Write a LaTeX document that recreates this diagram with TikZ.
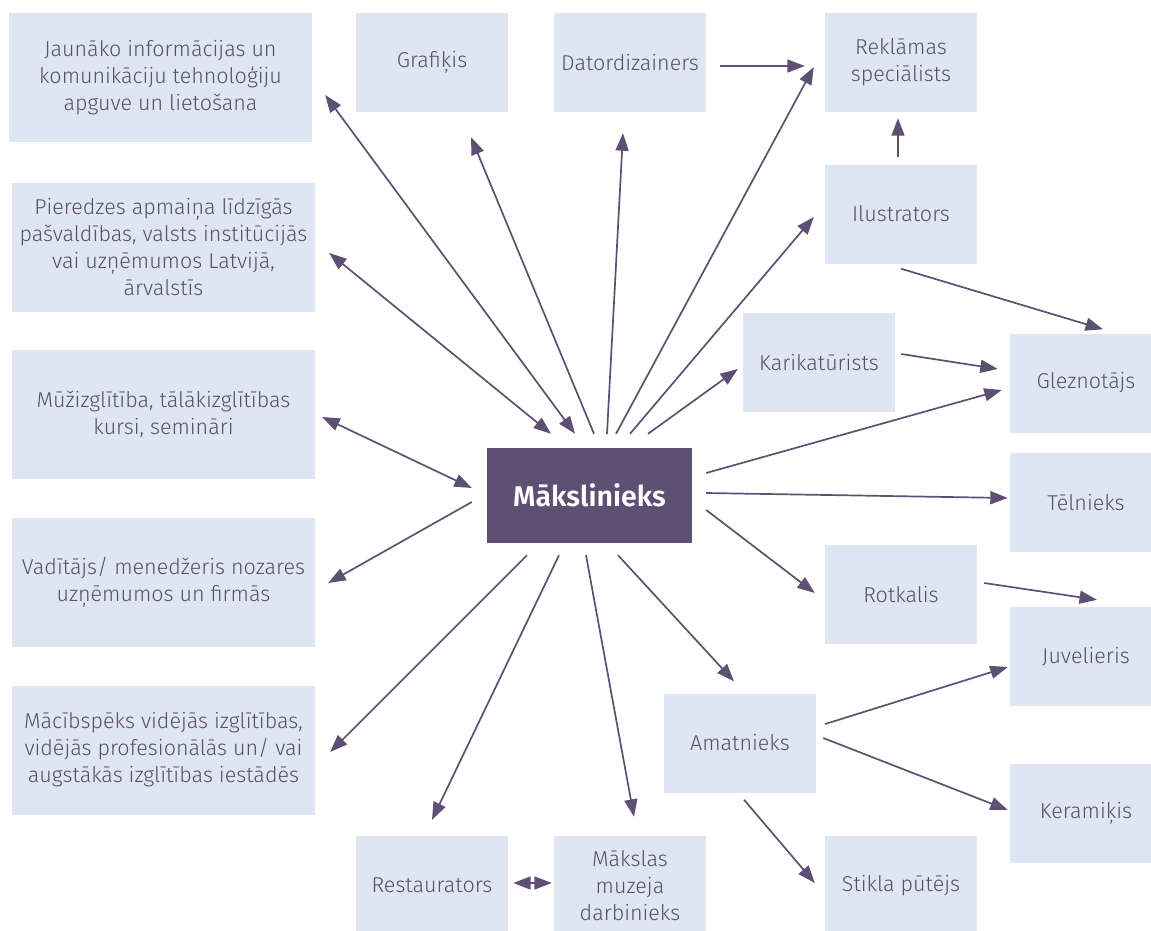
\documentclass[tikz,border=0pt]{standalone}
\usepackage{fontspec}
\setmainfont{Fira Sans Light}[BoldFont={Fira Sans SemiBold}]
\usetikzlibrary{arrows.meta}
\definecolor{boxblue}{HTML}{DFE6F3}
\definecolor{plum}{HTML}{5E5072}
\definecolor{plumtext}{HTML}{5A4E6B}

\begin{document}
\begin{tikzpicture}[x=1pt,y=-1pt,>={Triangle[length=17.5pt,width=13pt]},
   job/.style={fill=boxblue, text=plumtext, align=center, inner sep=0pt, minimum width=152pt, minimum height=99pt, font=\fontsize{21.5}{27}\selectfont},
   wide/.style={job, minimum width=303pt, minimum height=129pt},
   link/.style={->, draw=plum, line width=1.7pt},
   twoway/.style={<->, draw=plum, line width=1.7pt}]
   \path[use as bounding box, fill=white] (0,0) rectangle (1151,931);

   % left column
   \node[wide] (jaun) at (160.5,77.5) {Jaunāko informācijas un\\komunikāciju tehnoloģiju\\apguve un lietošana};
   \node[wide] (pier) at (163.5,247.5) {Pieredzes apmaiņa līdzīgās\\pašvaldības, valsts institūcijās\\vai uzņēmumos Latvijā,\\ārvalstīs};
   \node[wide] (muz) at (163.5,414.5) {Mūžizglītība, tālākizglītības\\kursi, semināri};
   \node[wide] (vad) at (163.5,582.5) {Vadītājs/ menedžeris nozares\\uzņēmumos un firmās};
   \node[wide] (mac) at (163.5,750) {Mācībspēks vidējās izglītības,\\vidējās profesionālās un/ vai\\augstākās izglītības iestādēs};

   % the artist in the middle
   \node[fill=plum, text=white, inner sep=0pt, minimum width=205pt, minimum height=95pt, font=\fontsize{28.5}{30}\selectfont\bfseries] (mak) at (589.5,495.5) {Mākslinieks};

   \node[job] (graf) at (432,62.5) {Grafiķis};
   \node[job] (dat) at (630,62.5) {Datordizainers};
   \node[job] (rek) at (901,62.5) {Reklāmas\\speciālists};
   \node[job] (ilu) at (901,214) {Ilustrators};
   \node[job] (kar) at (819,362.5) {Karikatūrists};
   \node[job] (glez) at (1086,383) {Gleznotājs};
   \node[job] (tel) at (1086,502.5) {Tēlnieks};
   \node[job] (rot) at (901,594.5) {Rotkalis};
   \node[job] (juv) at (1086,656.5) {Juvelieris};
   \node[job] (kera) at (1086,813) {Keramiķis};
   \node[job] (ama) at (740,743) {Amatnieks};
   \node[job] (stik) at (901,885.5) {Stikla pūtējs};
   \node[job] (rest) at (432,885.5) {Restaurators};
   \node[job] (muzd) at (630,885.5) {Mākslas\\muzeja\\darbinieks};

   \draw[twoway] ([shift={(13,17.5)}]jaun.east) -- ([shift={(-14.5,-14)}]mak.north);
   \draw[twoway] ([shift={(14,5.5)}]pier.east) -- ([shift={(-38.5,-14)}]mak.north);
   \draw[twoway] ([shift={(7,2.5)}]muz.east) -- ([shift={(-15,-7.5)}]mak.west);
   \draw[link] ([shift={(-15,6.5)}]mak.west) -- ([shift={(13,0.5)}]vad.east);
   \draw[link] ([shift={(-62.5,12)}]mak.south) -- ([shift={(15,2)}]mac.east);
   \draw[link] ([shift={(-30.5,12)}]mak.south) -- ([shift={(0,-16)}]rest.north);
   \draw[link] ([shift={(-3.5,12)}]mak.south) -- ([shift={(4,-19)}]muzd.north);
   \draw[link] ([shift={(28.5,12)}]mak.south) -- ([shift={(-6,-12)}]ama.north);
   \draw[link] ([shift={(4.5,-14)}]mak.north) -- ([shift={(39,25)}]graf.south);
   \draw[link] ([shift={(17.5,-14)}]mak.north) -- ([shift={(-7,21)}]dat.south);
   \draw[link] ([shift={(26.5,-14)}]mak.north) -- ([shift={(-11,4.5)}]rek.west);
   \draw[link] ([shift={(40.5,-14)}]mak.north) -- ([shift={(-11,3)}]ilu.west);
   \draw[link] ([shift={(58.5,-14)}]mak.north) -- ([shift={(-5,6.5)}]kar.west);
   \draw[link] ([shift={(14,-22.5)}]mak.east) -- ([shift={(-8,7)}]glez.west);
   \draw[link] ([shift={(14,-2.5)}]mak.east) -- ([shift={(-2,-4.5)}]tel.west);
   \draw[link] ([shift={(14,14.5)}]mak.east) -- ([shift={(-10,-1.5)}]rot.west);

   \draw[link] ([shift={(14,3.5)}]dat.east) -- ([shift={(-20,3.5)}]rek.west);
   \draw[link] ([shift={(-3,-7)}]ilu.north) -- ([shift={(-3,6)}]rek.south);
   \draw[link] ([shift={(0,5)}]ilu.south) -- ([shift={(17,-4)}]glez.north);
   \draw[link] ([shift={(6,-8.5)}]kar.east) -- ([shift={(-12,-14)}]glez.west);
   \draw[link] ([shift={(7,-11.5)}]rot.east) -- ([shift={(11,-7)}]juv.north);
   \draw[link] ([shift={(9,-19)}]ama.east) -- ([shift={(-2,10.5)}]juv.west);
   \draw[link] ([shift={(7,-5)}]ama.east) -- ([shift={(-2,-3)}]kera.west);
   \draw[link] ([shift={(4,7)}]ama.south) -- ([shift={(-10,-2.5)}]stik.west);
   \draw[twoway] ([shift={(5,-2.5)}]rest.east) -- ([shift={(-2,-2.5)}]muzd.west);
\end{tikzpicture}
\end{document}
